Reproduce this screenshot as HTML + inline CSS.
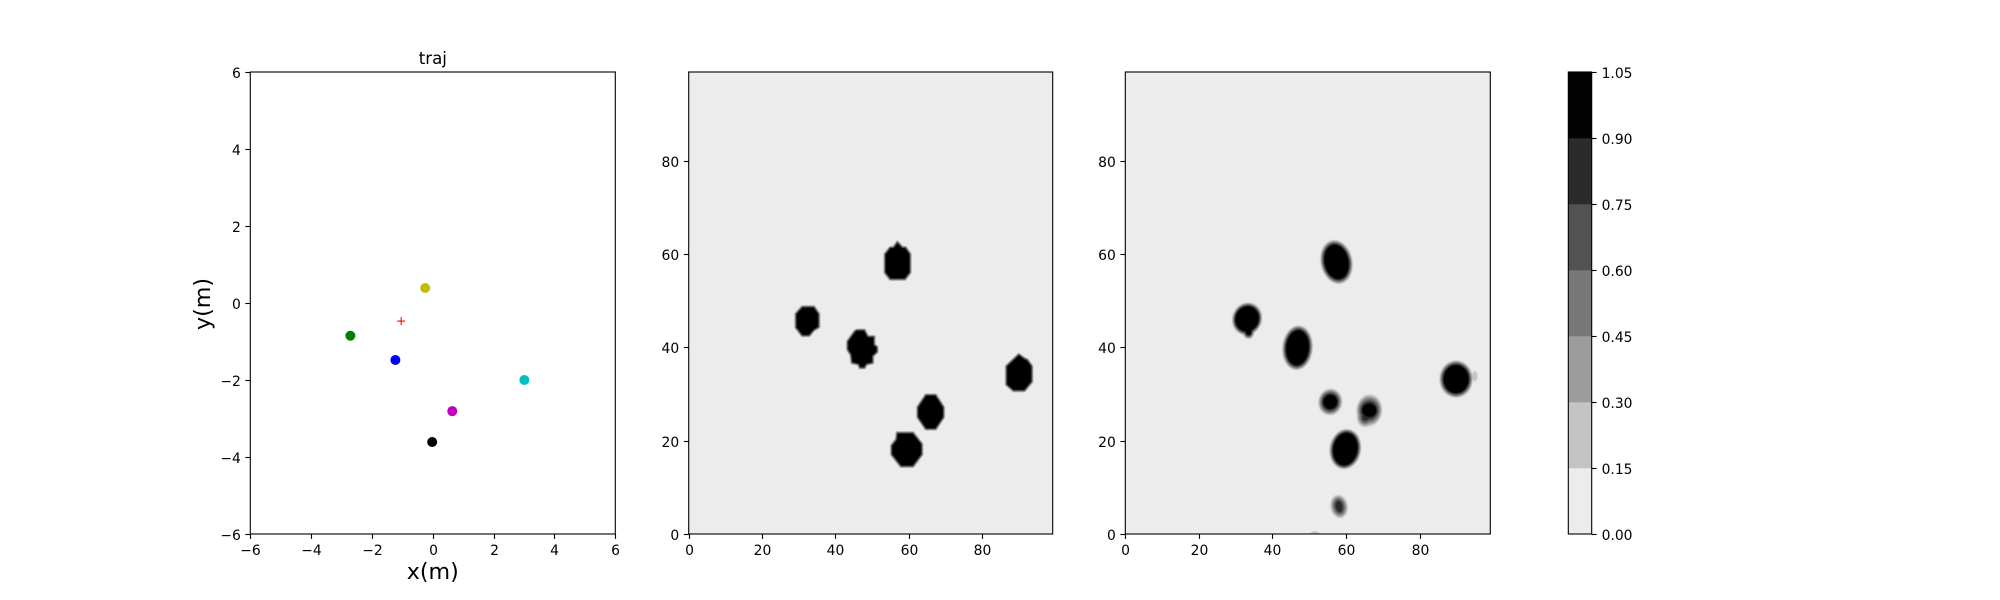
<!DOCTYPE html>
<html>
<head>
<meta charset="utf-8">
<title>traj</title>
<style>
html,body{margin:0;padding:0;background:#fff;width:2000px;height:600px;overflow:hidden}
svg{display:block}
text{font-family:"DejaVu Sans","Liberation Sans",sans-serif;fill:#000}
</style>
</head>
<body>
<svg id="chart" width="2000" height="600" viewBox="0 0 2000 600" xmlns="http://www.w3.org/2000/svg">
<defs>
<filter id="soft" x="-10%" y="-10%" width="120%" height="120%"><feGaussianBlur stdDeviation="0.4"/></filter>
<clipPath id="clip-map-a"><rect x="688.7" y="72" width="364" height="462"/></clipPath>
<clipPath id="clip-map-b"><rect x="1125.3" y="72" width="365" height="462"/></clipPath>
</defs>
</svg>
<script>
// ---- trajectory scatter data (metres)
const trajTicks = [-6, -4, -2, 0, 2, 4, 6];
const agentX = [-1.23, -2.71, 3.01, 0.64, -0.25, -0.02];
const agentY = [-1.48, -0.85, -2.0, -2.81, 0.39, -3.61];
const agentColors = ['#0000ff', '#008000', '#00bfbf', '#bf00bf', '#bfbf00', '#000000'];
const agentNames = ['blue', 'green', 'cyan', 'magenta', 'yellow', 'black'];
const targetX = [-1.04];
const targetY = [-0.47];

// ---- occupancy maps (grid cells)
const mapXTicks = [0, 20, 40, 60, 80];
const mapYTicks = [0, 20, 40, 60, 80];

// contour outlines for the ground-truth map, in grid units
const truthOutlines = [
  [[56.9,62.7],[58.3,61.5],[59.2,61.5],[60.5,60],[60.5,56],[59,54.5],[54.9,54.5],[53.4,56],[53.4,60],[54.9,61.5],[55.8,61.5]],
  [[30.9,48.8],[34.2,48.8],[35.6,47.2],[35.6,44.3],[34.2,43.6],[32.9,42.4],[30.9,42.4],[29.1,44.2],[29.1,47.2]],
  [[45.8,43.8],[48,43.8],[48.9,42.4],[50.7,42.4],[50.7,40.6],[51.5,40.1],[51.5,39],[50.3,38.1],[50.3,36.6],[48.6,36.3],[48,35.5],[46.6,35.5],[46.2,36.3],[44.4,36.6],[44.1,38.4],[43.2,39.5],[43.2,41.3],[45.2,43.5]],
  [[90,38.6],[91.6,37.7],[92.4,37.4],[93.7,36],[93.7,32.6],[91.6,30.6],[88.5,30.6],[86.5,32],[86.5,36],[88.5,37.5]],
  [[64.6,29.9],[67.4,29.9],[69.6,27.2],[69.6,25],[67.4,22.4],[64.6,22.4],[62.3,25],[62.3,27.2]],
  [[56.7,21.8],[61.2,21.8],[63.7,19.3],[63.7,17],[61.2,14.4],[57.8,14.4],[55.2,17],[55.2,19],[56.5,20.3]]
];

// predicted-map blobs, in grid units
const blobX = [57.4, 33.1, 33.5, 46.8, 89.9, 95, 55.7, 66.3, 65.2, 59.8, 58.1, 51.5];
const blobY = [58.3, 46.1, 43.4, 39.9, 33.2, 33.8, 28.3, 26.5, 25.1, 18.2, 5.9, -0.1];
const blobOuterRx = [4.35, 4.05, 1.6, 4.15, 4.55, 0.7, 3.25, 3.5, 2.3, 4.3, 2.35, 1.3];
const blobOuterRy = [4.75, 3.55, 1.6, 4.8, 4.0, 1.1, 2.85, 3.4, 2.2, 4.35, 2.5, 0.7];
const blobCoreRx = [3.3, 3.2, 0.8, 3.15, 3.45, 0.5, 1.9, 1.9, 0.5, 3.35, 0.6, 1.2];
const blobCoreRy = [3.75, 2.75, 0.8, 3.8, 3.05, 0.9, 1.55, 1.45, 0.5, 3.55, 0.9, 0.6];
const blobTilt = [-12, 20, 0, 5, 0, 0, 10, 5, 0, 10, -10, 0];
const blobPeak = [7, 7, 7, 7, 7, 1, 7, 7, 5, 7, 5, 1];

// ---- colour scale
const scaleLevels = [0, 0.15, 0.30, 0.45, 0.60, 0.75, 0.90, 1.05];
const scaleLabels = ['0.00', '0.15', '0.30', '0.45', '0.60', '0.75', '0.90', '1.05'];
const scaleColors = ['#ececec', '#c4c4c4', '#9c9c9c', '#777777', '#525252', '#2b2b2b', '#030303'];

const svg = document.getElementById('chart');
const NS = 'http://www.w3.org/2000/svg';
const top_ = 72, bottom = 534;

function make(tag, attrs, parent) {
  const e = document.createElementNS(NS, tag);
  for (const k in attrs) e.setAttribute(k, attrs[k]);
  (parent || svg).appendChild(e);
  return e;
}
function linear(d0, d1, r0, r1) {
  return function (v) { return r0 + (v - d0) * (r1 - r0) / (d1 - d0); };
}
function fmt(v) { return String(v).replace('-', '\u2212'); }

function drawAxes(name, left, right, sx, sy, xTicks, yTicks) {
  xTicks.forEach(function (t) {
    const x = Math.round(sx(t)) + 0.5;
    const tick = make('line', {x1: x, x2: x, y1: bottom, y2: bottom + 4.9, stroke: '#000', 'stroke-width': 1.1});
    
    
    const lab = make('text', {x: x, y: bottom + 21, 'font-size': 13.89, 'text-anchor': 'middle'});
    lab.textContent = fmt(t);
    
    
  });
  yTicks.forEach(function (t) {
    const y = Math.round(sy(t)) + 0.5;
    const tick = make('line', {x1: left - 4.9, x2: left, y1: y, y2: y, stroke: '#000', 'stroke-width': 1.1});
    
    
    const lab = make('text', {x: left - 9.5, y: y + 5.5, 'font-size': 13.89, 'text-anchor': 'end'});
    lab.textContent = fmt(t);
    
    
  });
  const frame = make('rect', {x: left, y: top_, width: right - left, height: bottom - top_, fill: 'none', stroke: '#000', 'stroke-width': 1.1});
  
  
}

// ---- panel 1: trajectory scatter
const tLeft = 250.3, tRight = 615.3;
const tx = linear(-6, 6, tLeft, tRight);
const ty = linear(-6, 6, bottom, top_);
agentX.forEach(function (v, i) {
  const dot = make('circle', {cx: tx(v), cy: ty(agentY[i]), r: 5, fill: agentColors[i]});
  
  
});
targetX.forEach(function (v, i) {
  const g = make('g', {stroke: '#ff0000', 'stroke-width': 1.1});
  
  
  const cx = tx(v), cy = ty(targetY[i]);
  make('line', {x1: cx - 4, x2: cx + 4, y1: cy, y2: cy}, g);
  make('line', {x1: cx, x2: cx, y1: cy - 4, y2: cy + 4}, g);
});
drawAxes('traj', tLeft, tRight, tx, ty, trajTicks, trajTicks);

const title = make('text', {x: 432.8, y: 64, 'font-size': 16.67, 'text-anchor': 'middle'});
title.textContent = 'traj';


const xLabel = make('text', {x: 432.8, y: 579, 'font-size': 22.2, 'text-anchor': 'middle'});
xLabel.textContent = 'x(m)';


const yLabel = make('text', {x: 0, y: 0, 'font-size': 22.2, 'text-anchor': 'middle', transform: 'translate(210 304) rotate(-90)'});
yLabel.textContent = 'y(m)';



// ---- panel 2: ground truth map
const aLeft = 688.7, aRight = 1052.7;
const ax = linear(0, 99.25, aLeft, aRight);
const ay = linear(0, 99, bottom, top_);
const aBg = make('rect', {x: aLeft, y: top_, width: aRight - aLeft, height: bottom - top_, fill: scaleColors[0]});


const aGroup = make('g', {'clip-path': 'url(#clip-map-a)', filter: 'url(#soft)'});


truthOutlines.forEach(function (outline) {
  const pts = outline.map(function (p) { return ax(p[0]).toFixed(1) + ',' + ay(p[1]).toFixed(1); }).join(' ');
  const shape = make('polygon', {points: pts, fill: '#030303', stroke: '#707070', 'stroke-width': 1.3, 'stroke-linejoin': 'round'}, aGroup);
  
  
});
drawAxes('truth-map', aLeft, aRight, ax, ay, mapXTicks, mapYTicks);

// ---- panel 3: predicted map
const bLeft = 1125.3, bRight = 1490.3;
const bx = linear(0, 99.2, bLeft, bRight);
const by = linear(0, 99, bottom, top_);
const bBg = make('rect', {x: bLeft, y: top_, width: bRight - bLeft, height: bottom - top_, fill: scaleColors[0]});


const bGroup = make('g', {'clip-path': 'url(#clip-map-b)', filter: 'url(#soft)'});


const pxX = (bRight - bLeft) / 99.2, pxY = (bottom - top_) / 99;
for (let level = 1; level < scaleColors.length; level++) {
  blobX.forEach(function (v, i) {
    if (blobPeak[i] < level) return;
    const t = (level - 1) / (scaleColors.length - 2);
    const rx = blobOuterRx[i] + (blobCoreRx[i] - blobOuterRx[i]) * t;
    const ry = blobOuterRy[i] + (blobCoreRy[i] - blobOuterRy[i]) * t;
    const cx = bx(v), cy = by(blobY[i]);
    const ring = make('ellipse', {cx: cx, cy: cy, rx: rx * pxX, ry: ry * pxY, fill: scaleColors[level], transform: 'rotate(' + blobTilt[i] + ' ' + cx + ' ' + cy + ')'}, bGroup);
    
    
  });
}
drawAxes('predicted-map', bLeft, bRight, bx, by, mapXTicks, mapYTicks);

// ---- colour bar
const cLeft = 1568.3, cRight = 1591.7;
const cy = linear(scaleLevels[0], scaleLevels[scaleLevels.length - 1], bottom, top_);
scaleColors.forEach(function (c, i) {
  const y0 = cy(scaleLevels[i + 1]), y1 = cy(scaleLevels[i]);
  const seg = make('rect', {x: cLeft, y: y0, width: cRight - cLeft, height: y1 - y0 + 0.3, fill: c});
  
  
});
scaleLevels.forEach(function (v, i) {
  const y = Math.round(cy(v)) + 0.5;
  const tick = make('line', {x1: cRight, x2: cRight + 4.9, y1: y, y2: y, stroke: '#000', 'stroke-width': 1.1});
  
  
  const lab = make('text', {x: cRight + 9.9, y: y + 5.5, 'font-size': 13.89});
  lab.textContent = scaleLabels[i];
  
  
});
const cFrame = make('rect', {x: cLeft, y: top_, width: cRight - cLeft, height: bottom - top_, fill: 'none', stroke: '#000', 'stroke-width': 1.1});


</script>
</body>
</html>
